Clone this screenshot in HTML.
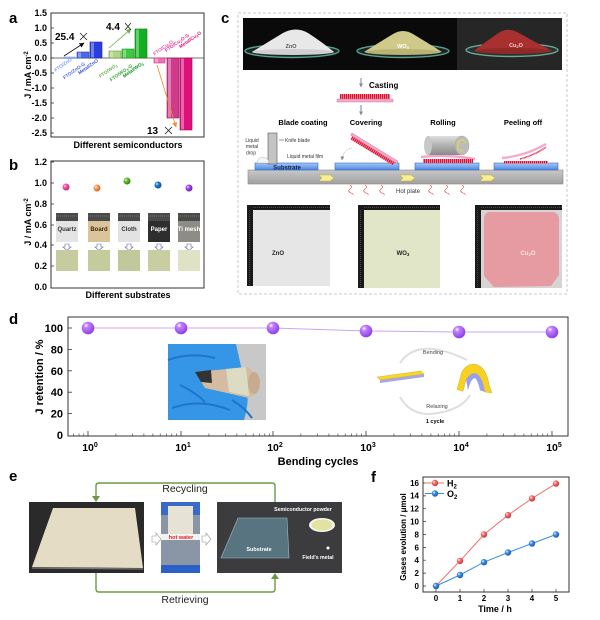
<!DOCTYPE html>
<html><head><meta charset="utf-8">
<style>
html,body{margin:0;padding:0;background:#fff;}
svg{display:block;}
text{font-family:"Liberation Sans",Arial,sans-serif;}
</style></head><body>
<svg width="600" height="620" viewBox="0 0 600 620" xmlns="http://www.w3.org/2000/svg">
<defs>
 <radialGradient id="sPink" cx="35%" cy="35%" r="70%"><stop offset="0" stop-color="#fff"/><stop offset="0.3" stop-color="#ff5ab0"/><stop offset="1" stop-color="#c0206e"/></radialGradient>
 <radialGradient id="sOr" cx="35%" cy="35%" r="70%"><stop offset="0" stop-color="#fff"/><stop offset="0.3" stop-color="#ffa060"/><stop offset="1" stop-color="#d0601a"/></radialGradient>
 <radialGradient id="sGr" cx="35%" cy="35%" r="70%"><stop offset="0" stop-color="#fff"/><stop offset="0.3" stop-color="#6cc830"/><stop offset="1" stop-color="#2a7a0a"/></radialGradient>
 <radialGradient id="sBl" cx="35%" cy="35%" r="70%"><stop offset="0" stop-color="#fff"/><stop offset="0.3" stop-color="#2080d8"/><stop offset="1" stop-color="#0a4a90"/></radialGradient>
 <radialGradient id="sPu" cx="35%" cy="35%" r="70%"><stop offset="0" stop-color="#fff"/><stop offset="0.3" stop-color="#a850f0"/><stop offset="1" stop-color="#6a18b0"/></radialGradient>
 <radialGradient id="sD" cx="35%" cy="30%" r="75%"><stop offset="0" stop-color="#fff"/><stop offset="0.25" stop-color="#c080ff"/><stop offset="1" stop-color="#8a3ae0"/></radialGradient>
 <radialGradient id="sR" cx="35%" cy="35%" r="70%"><stop offset="0" stop-color="#fff"/><stop offset="0.35" stop-color="#f46a6a"/><stop offset="1" stop-color="#c83838"/></radialGradient>
 <radialGradient id="sB2" cx="35%" cy="35%" r="70%"><stop offset="0" stop-color="#fff"/><stop offset="0.35" stop-color="#3a8ee8"/><stop offset="1" stop-color="#1a5ab0"/></radialGradient>
 <linearGradient id="sub" x1="0" y1="0" x2="0" y2="1"><stop offset="0" stop-color="#a8c8f8"/><stop offset="1" stop-color="#4a88e0"/></linearGradient>
 <linearGradient id="hp" x1="0" y1="0" x2="0" y2="1"><stop offset="0" stop-color="#c8c8c8"/><stop offset="1" stop-color="#a0a0a0"/></linearGradient>
 <linearGradient id="cyl" x1="0" y1="0" x2="0" y2="1"><stop offset="0" stop-color="#e0e0e0"/><stop offset="0.5" stop-color="#b0b0b0"/><stop offset="1" stop-color="#8a8a8a"/></linearGradient>
 <pattern id="teeth" width="2" height="4" patternUnits="userSpaceOnUse"><rect width="2" height="4" fill="#f8c0d0"/><rect width="1.4" height="4" fill="#e0102a"/></pattern>
 <marker id="mk" viewBox="0 0 10 10" refX="9" refY="5" markerWidth="5" markerHeight="5" orient="auto" markerUnits="userSpaceOnUse"><path d="M0,0 L10,5 L0,10 z" fill="#111"/></marker>
 <marker id="mg" viewBox="0 0 10 10" refX="9" refY="5" markerWidth="5" markerHeight="5" orient="auto" markerUnits="userSpaceOnUse"><path d="M0,0 L10,5 L0,10 z" fill="#6ab04a"/></marker>
 <marker id="mo" viewBox="0 0 10 10" refX="9" refY="5" markerWidth="5" markerHeight="5" orient="auto" markerUnits="userSpaceOnUse"><path d="M0,0 L10,5 L0,10 z" fill="#f08a30"/></marker>
 <marker id="mgy" viewBox="0 0 10 10" refX="9" refY="5" markerWidth="4" markerHeight="4" orient="auto" markerUnits="userSpaceOnUse"><path d="M0,0 L10,5 L0,10 z" fill="#888"/></marker>
</defs>

<!-- ============ PANEL A ============ -->
<text x="9" y="23" font-size="15" font-weight="bold">a</text>
<rect x="51" y="13" width="153" height="124" fill="none" stroke="#333" stroke-width="1"/>
<line x1="51" y1="58" x2="204" y2="58" stroke="#444" stroke-width="0.8"/>
<g font-size="9" font-weight="bold" text-anchor="end">
 <text x="47" y="16">1.5</text><text x="47" y="31">1.0</text><text x="47" y="46">0.5</text><text x="47" y="61">0.0</text>
 <text x="47" y="76">-0.5</text><text x="47" y="91">-1.0</text><text x="47" y="106">-1.5</text><text x="47" y="121">-2.0</text><text x="47" y="136">-2.5</text>
</g>
<g stroke="#333" stroke-width="0.8">
 <line x1="51" y1="13" x2="54" y2="13"/><line x1="51" y1="28" x2="54" y2="28"/><line x1="51" y1="43" x2="54" y2="43"/><line x1="51" y1="58" x2="54" y2="58"/><line x1="51" y1="73" x2="54" y2="73"/><line x1="51" y1="88" x2="54" y2="88"/><line x1="51" y1="103" x2="54" y2="103"/><line x1="51" y1="118" x2="54" y2="118"/><line x1="51" y1="133" x2="54" y2="133"/>
</g>
<text transform="translate(31,75) rotate(-90)" font-size="9" font-weight="bold" text-anchor="middle">J / mA cm<tspan dy="-3" font-size="6">-2</tspan></text>
<!-- bars -->
<rect x="64" y="57" width="11" height="1.5" fill="#9ab4f0" stroke="#6a8ae0" stroke-width="0.5"/>
<rect x="77" y="52" width="12" height="6" fill="#4a6ae8" stroke="#2a40b0" stroke-width="0.6"/>
<rect x="90" y="42" width="12" height="16" fill="#2a3ee0" stroke="#1a2aa0" stroke-width="0.6"/>
<rect x="109" y="51" width="12" height="7" fill="#b0d488" stroke="#6a9a40" stroke-width="0.6"/>
<rect x="122" y="49" width="12" height="9" fill="#40c840" stroke="#209020" stroke-width="0.6"/>
<rect x="135" y="29" width="12" height="29" fill="#10b020" stroke="#0a7a10" stroke-width="0.6"/>
<rect x="154" y="58" width="11" height="5" fill="#f070b8" stroke="#c04080" stroke-width="0.6"/>
<rect x="167" y="58" width="12" height="60" fill="#d03a8a" stroke="#901a5a" stroke-width="0.6"/>
<rect x="180" y="58" width="12" height="72" fill="#e0107a" stroke="#a00a5a" stroke-width="0.6"/>
<g fill="#fff" opacity="0.35">
 <rect x="78" y="52.5" width="3" height="5"/><rect x="91" y="42.5" width="3" height="15"/><rect x="110" y="51.5" width="3" height="6"/><rect x="123" y="49.5" width="3" height="8"/><rect x="136" y="29.5" width="3" height="28"/><rect x="155" y="58.5" width="3" height="4"/><rect x="168" y="58.5" width="3" height="59"/><rect x="181" y="58.5" width="3" height="71"/>
</g>
<!-- rotated labels -->
<g font-size="4.8" font-weight="bold" text-anchor="middle">
 <text transform="translate(64,66) rotate(-35)" fill="#7a9af8">FTO/ZnO</text>
 <text transform="translate(75,72) rotate(-35)" fill="#4a6af0">FTO/ZnO-G</text>
 <text transform="translate(89,68) rotate(-35)" fill="#3a50e0">Metal/ZnO</text>
 <text transform="translate(109,72) rotate(-35)" fill="#70b050">FTO/WO<tspan font-size="3.5" dy="1">3</tspan></text>
 <text transform="translate(122,74) rotate(-35)" fill="#30a830">FTO/WO<tspan font-size="3.5" dy="1">3</tspan><tspan dy="-1">-G</tspan></text>
 <text transform="translate(134,71) rotate(-35)" fill="#109020">Metal/WO<tspan font-size="3.5" dy="1">3</tspan></text>
 <text transform="translate(164,49) rotate(-35)" fill="#f050a0">FTO/Cu<tspan font-size="3.5" dy="1">2</tspan><tspan dy="-1">O</tspan></text>
 <text transform="translate(178,44) rotate(-35)" fill="#e0308a">FTO/Cu<tspan font-size="3.5" dy="1">2</tspan><tspan dy="-1">O-G</tspan></text>
 <text transform="translate(191,41) rotate(-35)" fill="#e0107a">Metal/Cu<tspan font-size="3.5" dy="1">2</tspan><tspan dy="-1">O</tspan></text>
</g>
<!-- arrows -->
<line x1="64" y1="56" x2="84" y2="43" stroke="#111" stroke-width="0.8" marker-end="url(#mk)"/>
<line x1="109" y1="48" x2="131" y2="29" stroke="#6ab04a" stroke-width="0.8" marker-end="url(#mg)"/>
<line x1="157" y1="65" x2="176" y2="127" stroke="#f08a30" stroke-width="0.8" marker-end="url(#mo)"/>
<g font-size="10" font-weight="bold">
 <text x="55" y="40">25.4</text><text x="106" y="30">4.4</text><text x="147" y="134">13</text>
</g>
<g stroke="#222" stroke-width="0.8">
 <path d="M80,33 L87,40 M87,33 L80,40"/><path d="M125,23 L131,30 M131,23 L125,30"/><path d="M165,127 L172,134 M172,127 L165,134"/>
</g>
<text x="128" y="148" font-size="9" font-weight="bold" text-anchor="middle">Different semiconductors</text>

<!-- ============ PANEL B ============ -->
<text x="9" y="170" font-size="15" font-weight="bold">b</text>
<rect x="51" y="161" width="153" height="127" fill="none" stroke="#333" stroke-width="1"/>
<g font-size="9" font-weight="bold" text-anchor="end">
 <text x="47" y="165">1.2</text><text x="47" y="186">1.0</text><text x="47" y="207">0.8</text><text x="47" y="228">0.6</text><text x="47" y="248">0.4</text><text x="47" y="269">0.2</text><text x="47" y="290">0.0</text>
</g>
<g stroke="#333" stroke-width="0.8">
 <line x1="51" y1="162" x2="54" y2="162"/><line x1="51" y1="183" x2="54" y2="183"/><line x1="51" y1="204" x2="54" y2="204"/><line x1="51" y1="225" x2="54" y2="225"/><line x1="51" y1="245" x2="54" y2="245"/><line x1="51" y1="266" x2="54" y2="266"/>
</g>
<text transform="translate(31,222) rotate(-90)" font-size="9" font-weight="bold" text-anchor="middle">J / mA cm<tspan dy="-3" font-size="6">-2</tspan></text>
<circle cx="66" cy="187" r="3.5" fill="url(#sPink)"/>
<circle cx="97" cy="188" r="3.5" fill="url(#sOr)"/>
<circle cx="127" cy="181" r="3.5" fill="url(#sGr)"/>
<circle cx="158" cy="185" r="3.5" fill="url(#sBl)"/>
<circle cx="189" cy="188" r="3.5" fill="url(#sPu)"/>
<!-- substrate photos -->
<g>
 <rect x="56" y="213" width="22" height="29" fill="#e4e4e4"/><rect x="88" y="213" width="22" height="29" fill="#dcc49a"/><rect x="118" y="213" width="22" height="29" fill="#e2e2e2"/><rect x="148" y="213" width="22" height="29" fill="#2e2e2e"/><rect x="178" y="213" width="22" height="29" fill="#8e8c86"/>
 <g fill="#4a4a4a"><rect x="56" y="213" width="22" height="8"/><rect x="88" y="213" width="22" height="8"/><rect x="118" y="213" width="22" height="8"/><rect x="148" y="213" width="22" height="8"/><rect x="178" y="213" width="22" height="8"/></g>
 <g stroke="#ddd" stroke-width="0.5" stroke-dasharray="0.6,1.4"><line x1="56" y1="216" x2="78" y2="216"/><line x1="88" y1="216" x2="110" y2="216"/><line x1="118" y1="216" x2="140" y2="216"/><line x1="148" y1="216" x2="170" y2="216"/><line x1="178" y1="216" x2="200" y2="216"/></g>
 <g font-size="6" font-weight="bold" text-anchor="middle">
  <text x="67" y="231" fill="#333">Quartz</text><text x="99" y="231" fill="#3a2a10">Board</text><text x="129" y="231" fill="#333">Cloth</text><text x="159" y="231" fill="#fff">Paper</text><text x="189" y="231" fill="#fff">Ti mesh</text>
 </g>
 <g fill="#fff" stroke="#5a6aa0" stroke-width="0.6">
  <path d="M65,244 h4 v3 h2 l-4,3.5 l-4,-3.5 h2 z"/><path d="M97,244 h4 v3 h2 l-4,3.5 l-4,-3.5 h2 z"/><path d="M127,244 h4 v3 h2 l-4,3.5 l-4,-3.5 h2 z"/><path d="M157,244 h4 v3 h2 l-4,3.5 l-4,-3.5 h2 z"/><path d="M187,244 h4 v3 h2 l-4,3.5 l-4,-3.5 h2 z"/>
 </g>
 <rect x="56" y="250" width="22" height="21" fill="#c6cca0"/><rect x="88" y="250" width="22" height="21" fill="#c4cc9e"/><rect x="118" y="250" width="22" height="21" fill="#c0c89c"/><rect x="148" y="250" width="22" height="21" fill="#c8cea2"/><rect x="178" y="250" width="22" height="21" fill="#dfe2c4"/>
</g>
<text x="128" y="298" font-size="9" font-weight="bold" text-anchor="middle">Different substrates</text>

<!-- ============ PANEL C ============ -->
<text x="221" y="23" font-size="15" font-weight="bold">c</text>
<rect x="238" y="13" width="329" height="281" fill="none" stroke="#bbb" stroke-width="0.8" stroke-dasharray="3,2"/>
<!-- powder photos -->
<rect x="243" y="18" width="319" height="52" fill="#0a0a0a"/>
<rect x="457" y="18" width="105" height="52" fill="#262626"/>
<g>
 <ellipse cx="292" cy="51" rx="47" ry="6.5" fill="#1a2624" stroke="#5aa090" stroke-width="1.4"/>
 <path d="M252,52 Q268,42 283,33 Q296,26 308,33 Q322,42 334,52 Z" fill="#e8e8e8"/>
 <ellipse cx="293" cy="52" rx="41" ry="3" fill="#d0d0d0"/>
 <text x="291" y="48" font-size="5.5" font-weight="bold" fill="#555" text-anchor="middle">ZnO</text>
 <ellipse cx="403" cy="51" rx="46" ry="6.5" fill="#1a2624" stroke="#5aa090" stroke-width="1.4"/>
 <path d="M364,52 Q380,42 393,34 Q403,28 413,34 Q428,43 442,52 Z" fill="#cfc98a"/>
 <ellipse cx="403" cy="52" rx="38" ry="3" fill="#b8b274"/>
 <text x="403" y="48" font-size="5.5" font-weight="bold" fill="#fff" text-anchor="middle">WO<tspan font-size="4" dy="1">3</tspan></text>
 <ellipse cx="512" cy="50" rx="46" ry="6.5" fill="#2a3230" stroke="#6aa898" stroke-width="1.4"/>
 <path d="M474,51 Q488,40 500,32 Q509,27 519,33 Q535,42 552,51 Z" fill="#a8302e"/>
 <ellipse cx="513" cy="51" rx="38" ry="3" fill="#902826"/>
 <text x="516" y="47" font-size="5.5" font-weight="bold" fill="#f0d0d0" text-anchor="middle">Cu<tspan font-size="4" dy="1">2</tspan><tspan dy="-1">O</tspan></text>
</g>
<!-- casting -->
<line x1="361" y1="78" x2="361" y2="87" stroke="#4a7ad0" stroke-width="0.9" marker-end="url(#mgy)"/>
<text x="369" y="88" font-size="8" font-weight="bold">Casting</text>
<rect x="340" y="94" width="50" height="5" fill="url(#teeth)"/>
<rect x="337" y="99" width="56" height="3" fill="#f4a8d0" stroke="#c07090" stroke-width="0.4"/>
<line x1="361" y1="105" x2="361" y2="115" stroke="#4a7ad0" stroke-width="0.9" marker-end="url(#mgy)"/>
<g font-size="7.5" font-weight="bold" text-anchor="middle">
 <text x="303" y="125">Blade coating</text><text x="366" y="125">Covering</text><text x="443" y="125">Rolling</text><text x="523" y="125">Peeling off</text>
</g>
<!-- hot plate -->
<rect x="248" y="170" width="315" height="14" fill="url(#hp)" stroke="#888" stroke-width="0.6"/>
<g fill="url(#sub)" stroke="#3a6ac0" stroke-width="0.6">
 <rect x="255" y="163" width="63" height="7"/><rect x="335" y="163" width="64" height="7"/><rect x="415" y="163" width="64" height="7"/><rect x="494" y="163" width="64" height="7"/>
</g>
<text x="287" y="169.5" font-size="6" font-weight="bold" fill="#102050" text-anchor="middle">Substrate</text>
<g fill="#f8f090" stroke="#c0b040" stroke-width="0.5">
 <path d="M319,175 h11 l4,3 l-4,3 h-11 l3,-3 z"/><path d="M400,175 h11 l4,3 l-4,3 h-11 l3,-3 z"/><path d="M480,175 h11 l4,3 l-4,3 h-11 l3,-3 z"/>
</g>
<g fill="none" stroke="#e04040" stroke-width="0.6">
 <path d="M350,185 q3,2 0,4 q-3,2 1,4 q3,1 2,2"/><path d="M365,185 q3,2 0,4 q-3,2 1,4 q3,1 2,2"/><path d="M381,185 q3,2 0,4 q-3,2 1,4 q3,1 2,2"/>
 <path d="M430,185 q3,2 0,4 q-3,2 1,4 q3,1 2,2"/><path d="M446,185 q3,2 0,4 q-3,2 1,4 q3,1 2,2"/><path d="M462,185 q3,2 0,4 q-3,2 1,4 q3,1 2,2"/>
</g>
<text x="396" y="193" font-size="6" fill="#333">Hot plate</text>
<!-- blade coating -->
<rect x="268" y="133" width="9" height="31" fill="#c4c4c4" stroke="#555" stroke-width="0.6"/>
<path d="M257,163 Q258,157 263,157 Q268,157 269,163 Z" fill="#f4f4f4" stroke="#aaa" stroke-width="0.4"/>
<g font-size="5" fill="#333">
 <text x="252" y="142" text-anchor="middle">Liquid</text><text x="252" y="148" text-anchor="middle">metal</text><text x="251" y="154.5" text-anchor="middle">drop</text>
 <text x="285" y="142">Knife blade</text><text x="287" y="158">Liquid metal film</text>
</g>
<line x1="279" y1="140" x2="284" y2="140" stroke="#333" stroke-width="0.5"/>
<!-- covering -->
<g transform="translate(352,133) rotate(31.5)">
 <rect x="2" y="2.6" width="50" height="3.6" fill="url(#teeth)"/>
 <rect x="0" y="0" width="54" height="2.6" fill="#f4a8d0" stroke="#c07090" stroke-width="0.4"/>
</g>
<path d="M352,148 Q343,150 342,160" fill="none" stroke="#888" stroke-width="0.5" stroke-dasharray="1.2,0.8" marker-end="url(#mgy)"/>
<!-- rolling -->
<path d="M421,157 Q446,154 475,159" fill="none" stroke="#f4a8d0" stroke-width="2.6"/>
<rect x="423" y="159" width="50" height="4" fill="url(#teeth)"/>
<rect x="428" y="136" width="34" height="19" rx="2" fill="url(#cyl)"/>
<ellipse cx="428" cy="145.5" rx="4" ry="9.5" fill="#c8c8c8"/>
<ellipse cx="462" cy="145.5" rx="7" ry="9.5" fill="#bcbcbc" stroke="#999" stroke-width="0.4"/>
<path d="M466,143 A4.5,5.5 0 1 0 463,151" fill="none" stroke="#f0e020" stroke-width="0.9"/>
<!-- peeling -->
<rect x="504" y="161" width="44" height="2.5" fill="url(#teeth)"/>
<path d="M502,158 Q525,156 546,144" fill="none" stroke="#f4a8d0" stroke-width="2.4"/>
<path d="M520,159 Q535,155 546,147" fill="none" stroke="#e0102a" stroke-width="1.6" stroke-dasharray="0.8,0.5"/>
<!-- sample photos -->
<g>
 <rect x="247" y="205" width="83" height="81" fill="#e6e6e6"/>
 <rect x="247" y="205" width="83" height="5" fill="#1a1a1a"/><rect x="247" y="205" width="6" height="81" fill="#1a1a1a"/>
 <rect x="358" y="205" width="82" height="83" fill="#e2e6c8"/>
 <rect x="358" y="205" width="82" height="5" fill="#1a1a1a"/><rect x="358" y="205" width="6" height="83" fill="#1a1a1a"/>
 <rect x="475" y="205" width="87" height="83" fill="#d8d4d4"/>
 <rect x="475" y="205" width="87" height="5" fill="#1a1a1a"/><rect x="475" y="205" width="6" height="83" fill="#1a1a1a"/>
 <path d="M489,212 L554,212 Q559,214 559,220 L559,275 L551,286 L494,287 L484,276 L484,218 Q485,212 489,212 Z" fill="#e69aa2"/>
 <g stroke="#ccc" stroke-width="0.5" stroke-dasharray="0.5,1.5">
  <line x1="253" y1="207.5" x2="330" y2="207.5"/><line x1="249.5" y1="210" x2="249.5" y2="286"/>
  <line x1="364" y1="207.5" x2="440" y2="207.5"/><line x1="360.5" y1="210" x2="360.5" y2="288"/>
  <line x1="481" y1="207.5" x2="562" y2="207.5"/><line x1="477.5" y1="210" x2="477.5" y2="288"/>
 </g>
 <g font-size="6" font-weight="bold" text-anchor="middle">
  <text x="278" y="255" fill="#222">ZnO</text><text x="403" y="255" fill="#222">WO<tspan font-size="4.5" dy="1">3</tspan></text><text x="528" y="255" fill="#fbe8ea">Cu<tspan font-size="4.5" dy="1">2</tspan><tspan dy="-1">O</tspan></text>
 </g>
</g>

<!-- ============ PANEL D ============ -->
<text x="9" y="324" font-size="15" font-weight="bold">d</text>
<rect x="68" y="317" width="500" height="119" fill="none" stroke="#333" stroke-width="1"/>
<g font-size="11" font-weight="bold" text-anchor="end">
 <text x="63" y="332">100</text><text x="63" y="353.4">80</text><text x="63" y="374.8">60</text><text x="63" y="396.2">40</text><text x="63" y="417.6">20</text><text x="63" y="439">0</text>
</g>
<g stroke="#333" stroke-width="0.8">
 <line x1="68" y1="328" x2="72" y2="328"/><line x1="68" y1="349.4" x2="72" y2="349.4"/><line x1="68" y1="370.8" x2="72" y2="370.8"/><line x1="68" y1="392.2" x2="72" y2="392.2"/><line x1="68" y1="413.6" x2="72" y2="413.6"/>
 <line x1="88" y1="436" x2="88" y2="431"/><line x1="181" y1="436" x2="181" y2="431"/><line x1="273" y1="436" x2="273" y2="431"/><line x1="366" y1="436" x2="366" y2="431"/><line x1="459" y1="436" x2="459" y2="431"/><line x1="552" y1="436" x2="552" y2="431"/>
</g>
<g stroke="#333" stroke-width="0.6">
 <path d="M73.6,436v-2.5M79,436v-2.5M83.8,436v-2.5
 M115.9,436v-2.5M132.3,436v-2.5M143.9,436v-2.5M152.9,436v-2.5M160.2,436v-2.5M166.4,436v-2.5M171.8,436v-2.5M176.6,436v-2.5
 M208.9,436v-2.5M225.3,436v-2.5M236.9,436v-2.5M245.9,436v-2.5M253.2,436v-2.5M259.4,436v-2.5M264.8,436v-2.5M269.6,436v-2.5
 M300.9,436v-2.5M317.3,436v-2.5M328.9,436v-2.5M337.9,436v-2.5M345.2,436v-2.5M351.4,436v-2.5M356.8,436v-2.5M361.6,436v-2.5
 M393.9,436v-2.5M410.3,436v-2.5M421.9,436v-2.5M430.9,436v-2.5M438.2,436v-2.5M444.4,436v-2.5M449.8,436v-2.5M454.6,436v-2.5
 M486.9,436v-2.5M503.3,436v-2.5M514.9,436v-2.5M523.9,436v-2.5M531.2,436v-2.5M537.4,436v-2.5M542.8,436v-2.5M547.6,436v-2.5"/>
</g>
<g font-size="10.5" font-weight="bold" text-anchor="middle">
 <text x="90" y="451">10<tspan dy="-4" font-size="7">0</tspan></text><text x="183" y="451">10<tspan dy="-4" font-size="7">1</tspan></text><text x="275" y="451">10<tspan dy="-4" font-size="7">2</tspan></text><text x="368" y="451">10<tspan dy="-4" font-size="7">3</tspan></text><text x="461" y="451">10<tspan dy="-4" font-size="7">4</tspan></text><text x="554" y="451">10<tspan dy="-4" font-size="7">5</tspan></text>
</g>
<text x="318" y="465" font-size="11" font-weight="bold" text-anchor="middle">Bending cycles</text>
<text transform="translate(43,377) rotate(-90)" font-size="11" font-weight="bold" text-anchor="middle">J retention / %</text>
<polyline points="88,328 181,328 273,328 366,331 459,332 552,332" fill="none" stroke="#c8a8f0" stroke-width="1"/>
<g>
 <circle cx="88" cy="328" r="6.3" fill="url(#sD)"/><circle cx="181" cy="328" r="6.3" fill="url(#sD)"/><circle cx="273" cy="328" r="6.3" fill="url(#sD)"/><circle cx="366" cy="331" r="6.3" fill="url(#sD)"/><circle cx="459" cy="332" r="6.3" fill="url(#sD)"/><circle cx="552" cy="332" r="6.3" fill="url(#sD)"/>
</g>
<!-- glove photo -->
<g>
 <rect x="168" y="344" width="98" height="76" fill="#3596e8"/>
 <path d="M236,344 H266 V420 H244 Q250,400 246,390 Q242,370 236,344 Z" fill="#c8c8c8"/>
 <path d="M168,360 Q190,352 215,358 M172,408 Q200,398 230,410 M180,385 Q195,392 205,402 M232,400 Q245,408 252,418" fill="none" stroke="#1f74cc" stroke-width="2"/>
 <path d="M195,372 L248,367 L257,376 L257,393 L249,398 L205,388 Z" fill="#d4bca2"/>
 <path d="M195,372 L211,370 L212,383 L201,382 Z" fill="#333"/>
 <path d="M226,369 L246,367 L249,396 L229,392 Z" fill="#dcdcc4"/>
 <ellipse cx="254" cy="383" rx="6" ry="11" fill="#c6ab90"/>
</g>
<!-- bending diagram -->
<g>
 <path d="M400,363 Q418,336 467,360" fill="none" stroke="#dedede" stroke-width="2"/>
 <path d="M400,397 Q412,418 438,413 Q462,409 470,395" fill="none" stroke="#dedede" stroke-width="2"/>
 <path d="M377,377 L421,371 L424,374 L380,380 Z" fill="#f8d820" stroke="#c8a810" stroke-width="0.4"/>
 <path d="M380,380 L424,374 L424,377 L380,383 Z" fill="#a8a8e0"/>
 <g transform="translate(457,365) scale(1,0.82) translate(-461,-374)">
  <path d="M461,404 L466,382 Q472,370 482,374 Q491,379 493,398 L496,408 L489,407 L487,397 Q484,385 479,384 Q474,384 470,392 L467,406 Z" fill="#f8d020" stroke="#c8a010" stroke-width="0.4"/>
  <path d="M470,392 Q474,384 479,384 Q484,385 487,397 L489,407 L484,405 Q482,393 479,390 Q475,390 472,405 Z" fill="#9aa0f0"/>
 </g>
 <g font-size="5.5" fill="#444" text-anchor="middle"><text x="433" y="354">Bending</text><text x="437" y="408">Relaxing</text></g>
 <text x="435" y="423" font-size="5.5" font-weight="bold" text-anchor="middle">1 cycle</text>
</g>

<!-- ============ PANEL E ============ -->
<text x="9" y="481" font-size="15" font-weight="bold">e</text>
<g fill="none" stroke="#6a9a44" stroke-width="1.4">
 <path d="M275,502 V486 Q275,483 272,483 H99 Q96,483 96,486 V497"/>
 <path d="M96,573 V589 Q96,592 99,592 H272 Q275,592 275,589 V578"/>
</g>
<polygon points="92,496 100,496 96,502" fill="#6a9a44"/>
<polygon points="271,579 279,579 275,573" fill="#6a9a44"/>
<text x="185" y="492" font-size="10.5" text-anchor="middle" fill="#222">Recycling</text>
<text x="185" y="603" font-size="10.5" text-anchor="middle" fill="#222">Retrieving</text>
<rect x="29" y="502" width="115" height="71" fill="#2a2a2a"/>
<polygon points="53,508 135,508 143,568 32,567" fill="#e4dcc4"/>
<line x1="32" y1="568" x2="143" y2="569" stroke="#777" stroke-width="1.2"/>
<rect x="161" y="502" width="39" height="71" fill="#8a96a6"/>
<rect x="161" y="502" width="39" height="13" fill="#3a6ac8"/>
<rect x="168" y="506" width="25" height="28" fill="#e6e2d4"/>
<rect x="161" y="534" width="39" height="6" fill="#f2f2f2"/>
<rect x="161" y="565" width="39" height="8" fill="#2a60c8"/>
<text x="181" y="539" font-size="5.5" font-weight="bold" fill="#e02020" text-anchor="middle">hot water</text>
<g fill="#fff" stroke="#999" stroke-width="0.6">
 <path d="M152,536 H156 V533 L161,539 L156,545 V542 H152 Z"/><path d="M202,536 H206 V533 L211,539 L206,545 V542 H202 Z"/>
</g>
<rect x="217" y="502" width="125" height="71" fill="#3c3c3e"/>
<polygon points="238,518 287,518 289,558 221,558" fill="#587480" stroke="#9ac0d0" stroke-width="0.6"/>
<text x="259" y="551" font-size="5.5" font-weight="bold" fill="#fff" text-anchor="middle">Substrate</text>
<text x="303" y="511" font-size="5.2" font-weight="bold" fill="#fff" text-anchor="middle">Semiconductor powder</text>
<ellipse cx="322" cy="525" rx="13" ry="7" fill="#f4f4f0"/>
<ellipse cx="322" cy="525" rx="10.5" ry="5.5" fill="#e4e2a0"/>
<circle cx="328" cy="548" r="1.5" fill="#fff"/>
<text x="318" y="559" font-size="5.2" font-weight="bold" fill="#fff" text-anchor="middle">Field's metal</text>

<!-- ============ PANEL F ============ -->
<text x="371" y="482" font-size="15" font-weight="bold">f</text>
<rect x="423" y="477" width="146" height="115" fill="none" stroke="#333" stroke-width="1"/>
<g font-size="8" font-weight="bold" text-anchor="end">
 <text x="419" y="589">0</text><text x="419" y="576">2</text><text x="419" y="563">4</text><text x="419" y="550.5">6</text><text x="419" y="537.5">8</text><text x="419" y="524.5">10</text><text x="419" y="511.5">12</text><text x="419" y="498.5">14</text><text x="419" y="486">16</text>
</g>
<g font-size="8" font-weight="bold" text-anchor="middle">
 <text x="436" y="601">0</text><text x="460" y="601">1</text><text x="484" y="601">2</text><text x="508" y="601">3</text><text x="532" y="601">4</text><text x="556" y="601">5</text>
</g>
<g stroke="#333" stroke-width="0.7">
 <path d="M423,586h3M423,573.1h3M423,560.2h3M423,547.4h3M423,534.5h3M423,521.6h3M423,508.7h3M423,495.9h3M423,483h3"/>
 <path d="M436,592v-3M460,592v-3M484,592v-3M508,592v-3M532,592v-3M556,592v-3"/>
</g>
<text x="495" y="612" font-size="9" font-weight="bold" text-anchor="middle">Time / h</text>
<text transform="translate(406,537) rotate(-90)" font-size="8" font-weight="bold" text-anchor="middle">Gases evolution / μmol</text>
<polyline points="436,586 460,560.9 484,534.5 508,515.2 532,498.4 556,483.6" fill="none" stroke="#f07070" stroke-width="1"/>
<polyline points="436,586 460,575 484,562.2 508,552.5 532,543.5 556,534.5" fill="none" stroke="#3a8ee8" stroke-width="1"/>
<g>
 <circle cx="436" cy="586" r="3.2" fill="url(#sR)"/><circle cx="460" cy="560.9" r="3.2" fill="url(#sR)"/><circle cx="484" cy="534.5" r="3.2" fill="url(#sR)"/><circle cx="508" cy="515.2" r="3.2" fill="url(#sR)"/><circle cx="532" cy="498.4" r="3.2" fill="url(#sR)"/><circle cx="556" cy="483.6" r="3.2" fill="url(#sR)"/>
 <circle cx="436" cy="586" r="3.2" fill="url(#sB2)"/><circle cx="460" cy="575" r="3.2" fill="url(#sB2)"/><circle cx="484" cy="562.2" r="3.2" fill="url(#sB2)"/><circle cx="508" cy="552.5" r="3.2" fill="url(#sB2)"/><circle cx="532" cy="543.5" r="3.2" fill="url(#sB2)"/><circle cx="556" cy="534.5" r="3.2" fill="url(#sB2)"/>
</g>
<line x1="425" y1="483" x2="444" y2="483" stroke="#f07070" stroke-width="1"/><circle cx="435" cy="483" r="3.2" fill="url(#sR)"/>
<text x="447" y="486.5" font-size="9" font-weight="bold">H<tspan font-size="6" dy="2">2</tspan></text>
<line x1="425" y1="493.5" x2="444" y2="493.5" stroke="#3a8ee8" stroke-width="1"/><circle cx="435" cy="493.5" r="3.2" fill="url(#sB2)"/>
<text x="447" y="497" font-size="9" font-weight="bold">O<tspan font-size="6" dy="2">2</tspan></text>
</svg>
</body></html>
